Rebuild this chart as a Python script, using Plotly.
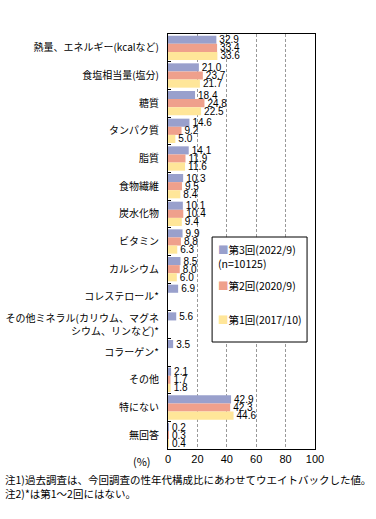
import plotly.graph_objects as go

categories = [
    "熱量、エネルギー(kcalなど)",
    "食塩相当量(塩分)",
    "糖質",
    "タンパク質",
    "脂質",
    "食物繊維",
    "炭水化物",
    "ビタミン",
    "カルシウム",
    "コレステロール*",
    "その他ミネラル(カリウム、マグネ<br>シウム、リンなど)*",
    "コラーゲン*",
    "その他",
    "特にない",
    "無回答",
]
series_names = ["第3回(2022/9)", "第2回(2020/9)", "第1回(2017/10)"]
sample_note = "(n=10125)"
wave3 = [32.9, 21.0, 18.4, 14.6, 14.1, 10.3, 10.1, 9.9, 8.5, 6.9, 5.6, 3.5, 2.1, 42.9, 0.2]
wave2 = [33.4, 23.7, 24.8, 9.2, 11.9, 9.5, 10.4, 8.8, 8.0, None, None, None, 1.7, 42.3, 0.3]
wave1 = [33.6, 21.7, 22.5, 5.0, 11.6, 8.4, 9.4, 6.3, 6.0, None, None, None, 1.8, 44.6, 0.4]
colors = ["#99A0CC", "#EFA08C", "#FFE699"]
x_ticks = [0, 20, 40, 60, 80, 100]

FONT = "Noto Sans CJK JP"
fig = go.Figure()
for i, (name, vals) in enumerate(zip(series_names, [wave3, wave2, wave1])):
    fig.add_trace(go.Bar(
        y=categories, x=vals, name=name, orientation="h",
        marker=dict(color=colors[i], line=dict(width=0)),
        text=[None if v is None else f"{v:.1f}" for v in vals],
        textposition="outside", cliponaxis=False, constraintext="none",
        textfont=dict(family="Liberation Sans", size=10, color="black"),
        showlegend=False,
    ))

fig.update_layout(
    width=376, height=519,
    margin=dict(l=168, r=61, t=34, b=70),
    paper_bgcolor="white", plot_bgcolor="white",
    barmode="group", bargap=0.12, bargroupgap=0,
    font=dict(family=FONT, size=11, color="black"),
    showlegend=False,
    xaxis=dict(range=[0, 100], tickvals=x_ticks, showgrid=True,
               gridcolor="#999999", griddash="3px,2px", gridwidth=1,
               showline=True, linecolor="black", linewidth=1, mirror=True,
               ticks="", tickfont=dict(family="Liberation Sans", size=11),
               zeroline=False, automargin=False),
    yaxis=dict(autorange="reversed", showline=True, linecolor="black",
               linewidth=1, mirror=True, ticks="inside", ticklen=3,
               tickson="boundaries", tickcolor="black", showgrid=False,
               ticklabelstandoff=6,
               tickfont=dict(family=FONT, size=10), automargin=False),
)

# legend box drawn by hand
def py(ypx):
    return (449 - ypx) / 415

fig.add_shape(type="rect", xref="paper", yref="paper",
              x0=0.30, x1=0.946, y0=py(342), y1=py(237),
              line=dict(color="black", width=1), fillcolor="white", layer="above")
legend_rows = [249, 285, 319]
for i, name in enumerate(series_names):
    fig.add_annotation(
        text=f'<span style="color:{colors[i]}">■</span>{name}',
        xref="paper", yref="paper", x=0.325, y=py(legend_rows[i]),
        xanchor="left", yanchor="middle", showarrow=False,
        font=dict(family=FONT, size=10.5))
fig.add_annotation(text=sample_note, xref="paper", yref="paper",
                   x=0.325, y=py(263), xanchor="left", yanchor="middle",
                   showarrow=False, font=dict(family=FONT, size=10.5))

fig.add_annotation(text="(%)", xref="paper", yref="paper", x=-0.10, y=-0.005,
                   yanchor="top", xanchor="right", showarrow=False,
                   font=dict(family=FONT, size=11))
fig.add_annotation(text="注1)過去調査は、今回調査の性年代構成比にあわせてウエイトバックした値。<br>注2)*は第1～2回にはない。",
                   xref="paper", yref="paper", x=-1.12, y=-0.05,
                   xanchor="left", yanchor="top", align="left", showarrow=False,
                   font=dict(family=FONT, size=10.5))
fig.write_html("out.html", config={"displayModeBar": False},
               post_script="document.body.style.margin='0';document.body.style.overflow='hidden';")
